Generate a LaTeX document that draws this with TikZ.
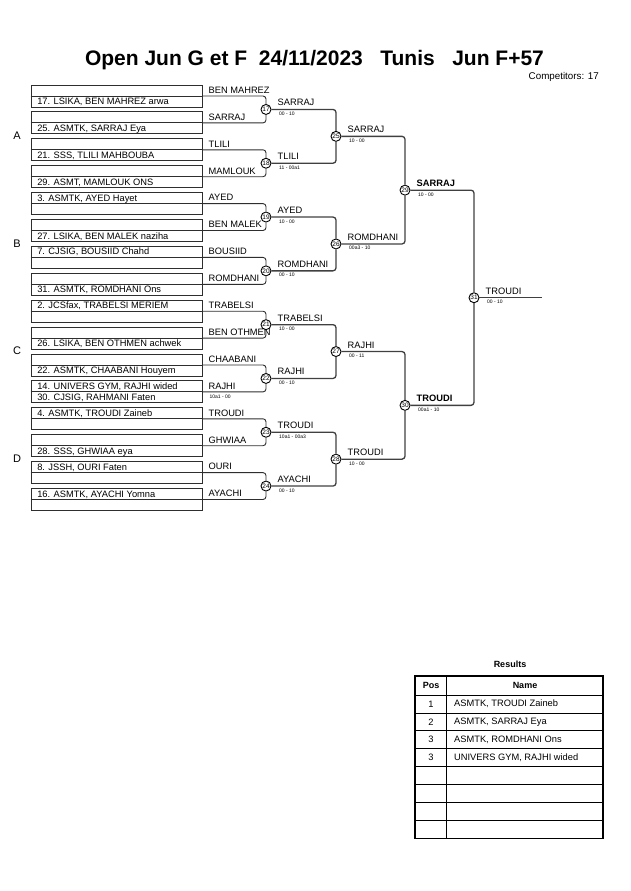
\documentclass[tikz,border=0pt]{standalone}
\usepackage{fontspec}
\setmainfont{Liberation Sans}
\usetikzlibrary{calc,positioning}
\definecolor{boxgray}{HTML}{2E2E2E}
\definecolor{linegray}{HTML}{404040}
\tikzset{
    entry/.style ={draw=boxgray, line width=0.9pt, minimum width=171pt, minimum height=22pt, inner sep=0pt},
    rowtext/.style ={anchor=base west, inner sep=0pt, font=\fontsize{9.3}{11}\selectfont},
    seedname/.style ={anchor=base west, inner sep=0pt, font=\fontsize{9.3}{11}\selectfont},
    winner/.style ={anchor=base west, inner sep=0pt, font=\fontsize{9.3}{11}\selectfont},
    score/.style ={anchor=base west, inner sep=0pt, font=\fontsize{5}{6}\selectfont},
    match/.style ={circle, draw=black, line width=0.9pt, fill=white, minimum size=10pt, inner sep=0pt, font=\fontsize{6.5}{7}\selectfont},
    feed/.style ={draw=boxgray, line width=0.9pt, rounded corners=3pt},
    bracket/.style ={draw=linegray, line width=1.3pt, rounded corners=3pt},
    pool/.style ={anchor=base, inner sep=0pt, font=\fontsize{11}{13}\selectfont},
    cell/.style ={inner sep=0pt, font=\fontsize{9.3}{11}\selectfont}
}

\begin{document}
\begin{tikzpicture}[x=1pt,y=-1pt]
\useasboundingbox (0,0) rectangle (630,891);

\node[anchor=base, inner sep=0pt, font=\fontsize{21}{25}\selectfont\bfseries] (title) at (314.5,66)
    {Open Jun G et F\ \ 24/11/2023\ \ \ Tunis\ \ \ Jun F+57};
\node[anchor=base east, inner sep=0pt, font=\fontsize{9.8}{11}\selectfont] (comp) at (599,79.5) {Competitors: 17};

\node[pool] (poolA) at (17,139.5) {A};
\node[pool] (poolB) at (17,247.1) {B};
\node[pool] (poolC) at (17,354.7) {C};
\node[pool] (poolD) at (17,462.3) {D};

% entrants
\foreach \i/\toprow/\botrow/\seed in {
    0/{}/{17. LSIKA, BEN MAHREZ arwa}/{BEN MAHREZ},
    1/{}/{25. ASMTK, SARRAJ Eya}/{SARRAJ},
    2/{}/{21. SSS, TLILI MAHBOUBA}/{TLILI},
    3/{}/{29. ASMT, MAMLOUK ONS}/{MAMLOUK},
    4/{3. ASMTK, AYED Hayet}/{}/{AYED},
    5/{}/{27. LSIKA, BEN MALEK naziha}/{BEN MALEK},
    6/{7. CJSIG, BOUSIID Chahd}/{}/{BOUSIID},
    7/{}/{31. ASMTK, ROMDHANI Ons}/{ROMDHANI},
    8/{2. JCSfax, TRABELSI MERIEM}/{}/{TRABELSI},
    9/{}/{26. LSIKA, BEN OTHMEN achwek}/{BEN OTHMEN},
    10/{}/{22. ASMTK, CHAABANI Houyem}/{CHAABANI},
    11/{14. UNIVERS GYM, RAJHI wided}/{30. CJSIG, RAHMANI Faten}/{RAJHI},
    12/{4. ASMTK, TROUDI Zaineb}/{}/{TROUDI},
    13/{}/{28. SSS, GHWIAA eya}/{GHWIAA},
    14/{8. JSSH, OURI Faten}/{}/{OURI},
    15/{16. ASMTK, AYACHI Yomna}/{}/{AYACHI}}{
    \node[entry] (e\i) at (116.5,{96+26.9*\i}) {};
    \draw[boxgray, line width=0.9pt] (e\i.west) -- (e\i.east);
    \node[rowtext] (t\i) at ($(e\i.west)+(6.5,-2.5)$) {\toprow};
    \node[rowtext] (b\i) at ($(e\i.west)+(6.5,8.5)$) {\botrow};
    \node[seedname] (s\i) at ($(e\i.east)+(6,-2.7)$) {\seed};
}
\node[score] (pre11) at ($(e11.east)+(7,6.5)$) {10a1 - 00};

% matches
\foreach \j/\n in {0/17,1/18,2/19,3/20,4/21,5/22,6/23,7/24}
    \node[match] (m\n) at (266,{109.45+53.8*\j}) {\n};
\foreach \k/\n in {0/25,1/26,2/27,3/28}
    \node[match] (m\n) at (336,{136.35+107.6*\k}) {\n};
\node[match] (m29) at (405,190.15) {29};
\node[match] (m30) at (405,405.35) {30};
\node[match] (m31) at (474,297.75) {31};
\coordinate (out) at (542,297.75);

\foreach \a/\b/\n in {0/1/17,2/3/18,4/5/19,6/7/20,8/9/21,10/11/22,12/13/23,14/15/24}{
    \path[feed] (e\a.east) -| (m\n.north);
    \path[feed] (e\b.east) -| (m\n.south);
}
\foreach \a/\b/\n in {17/18/25,19/20/26,21/22/27,23/24/28,25/26/29,27/28/30,29/30/31}{
    \path[bracket] (m\a.east) -| (m\n.north);
    \path[bracket] (m\b.east) -| (m\n.south);
}
\path[bracket] (m31.east) -- (out);

% winners and scores
\foreach \n/\w/\s in {17/SARRAJ/00 - 10, 18/TLILI/11 - 00a1, 19/AYED/10 - 00, 20/ROMDHANI/00 - 10,
    21/TRABELSI/10 - 00, 22/RAJHI/00 - 10, 23/TROUDI/10a1 - 00a3, 24/AYACHI/00 - 10,
    25/SARRAJ/10 - 00, 26/ROMDHANI/00a3 - 10, 27/RAJHI/00 - 11, 28/TROUDI/10 - 00,
    31/TROUDI/00 - 10}{
    \node[winner] (w\n) at ($(m\n)+(11.5,-3.5)$) {\w};
    \node[score] (sc\n) at ($(m\n)+(13,6)$) {\s};
}
\node[winner, font=\fontsize{9.3}{11}\selectfont\bfseries] (w29) at ($(m29)+(11.5,-3.5)$) {SARRAJ};
\node[score] (sc29) at ($(m29)+(13,6)$) {10 - 00};
\node[winner, font=\fontsize{9.3}{11}\selectfont\bfseries] (w30) at ($(m30)+(11.5,-3.5)$) {TROUDI};
\node[score] (sc30) at ($(m30)+(13,6)$) {00a1 - 10};

% results table
\node[cell, font=\fontsize{9}{11}\selectfont\bfseries] (res) at (510,664) {Results};
\foreach \k in {0,...,7}
    \draw[black, line width=0.8pt] (415,{695+17.9*\k}) -- (603,{695+17.9*\k});
\draw[black, line width=0.8pt] (446.7,676) -- (446.7,838.3);
\draw[black, line width=1.6pt] (415,676) rectangle (603,838.3);
\node[cell, font=\fontsize{9}{11}\selectfont\bfseries] (hpos) at (431,685.5) {Pos};
\node[cell, font=\fontsize{9}{11}\selectfont\bfseries] (hname) at (525,685.5) {Name};
\foreach \k/\p/\nm in {0/1/{ASMTK, TROUDI Zaineb}, 1/2/{ASMTK, SARRAJ Eya},
    2/3/{ASMTK, ROMDHANI Ons}, 3/3/{UNIVERS GYM, RAJHI wided}}{
    \node[cell] (p\k) at (431,{695+17.9*(\k+0.5)}) {\p};
    \node[cell, anchor=west] (n\k) at (454,{695+17.9*(\k+0.5)}) {\nm};
}
\end{tikzpicture}
\end{document}
